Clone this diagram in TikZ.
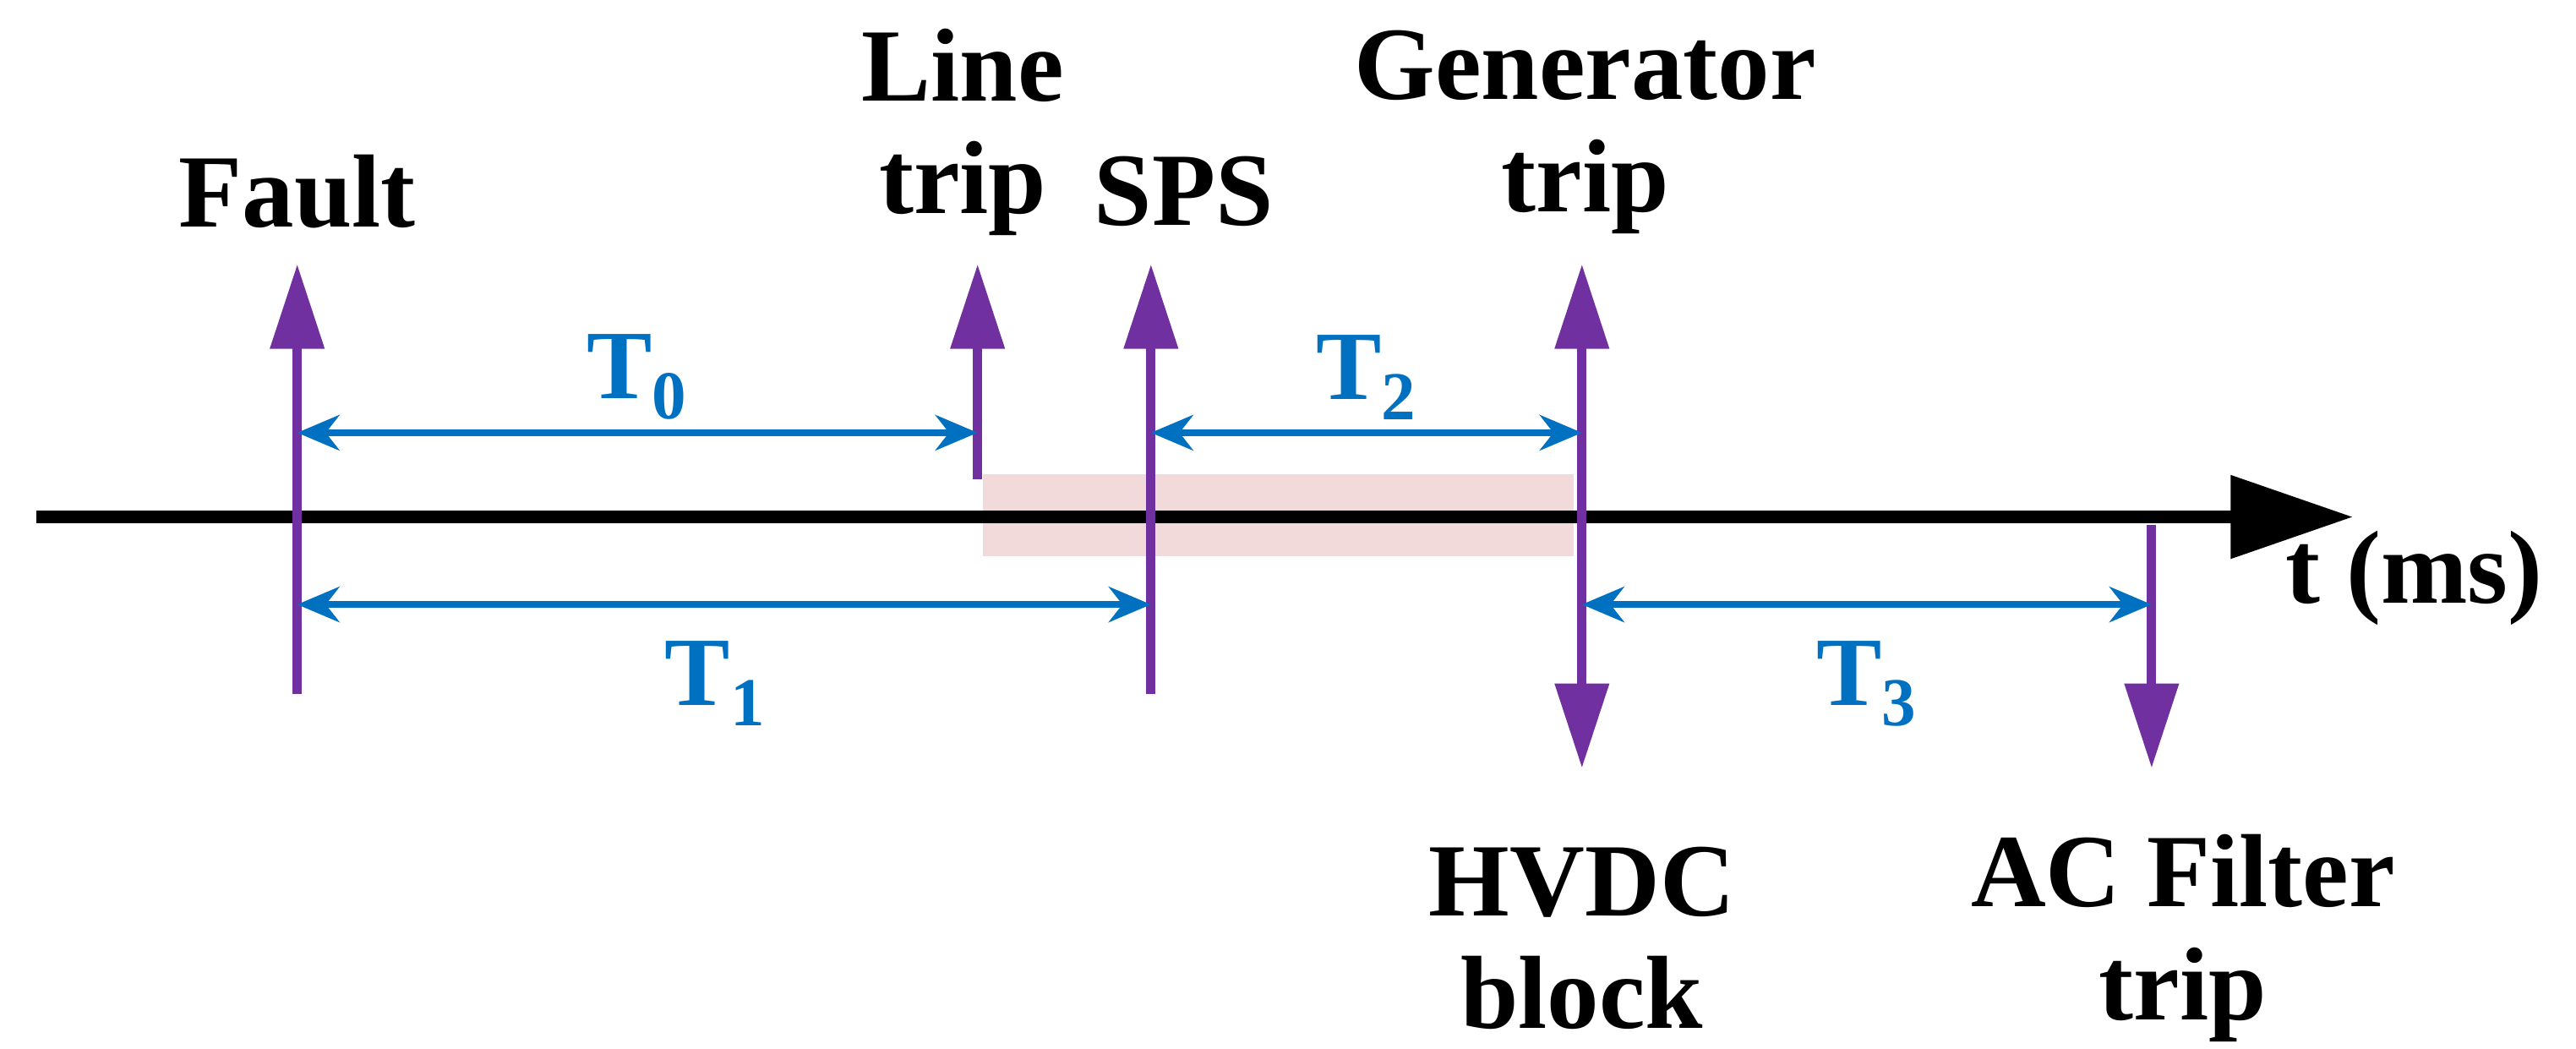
\documentclass[tikz,border=0pt]{standalone}
\usepackage{fontspec}
\setmainfont{Liberation Serif}
\usetikzlibrary{arrows.meta}
\definecolor{pur}{RGB}{112,48,160}
\definecolor{blu}{RGB}{0,112,192}
\definecolor{pnk}{RGB}{242,218,218}
\begin{document}
\begin{tikzpicture}[x=0.01954cm,y=-0.01954cm,
 ev/.style={pur,line width=3.1pt,-{Triangle[length=1cm,width=0.62cm]}},
 ev2/.style={pur,line width=3.1pt,{Triangle[length=1cm,width=0.62cm]}-{Triangle[length=1cm,width=0.62cm]}},
 dur/.style={blu,line width=2.1pt,{Stealth[length=0.5cm,width=0.42cm]}-{Stealth[length=0.5cm,width=0.42cm]}},
 lab/.style={font=\fontsize{35}{38}\selectfont\bfseries,align=center},
 tl/.style={blu,font=\fontsize{33}{34}\selectfont\bfseries}]
\useasboundingbox (0,0) rectangle (1560,635);
\fill[pnk] (595,287) rectangle (953,337);
\draw[line width=4.5pt,-{Triangle[length=1.45cm,width=0.95cm]}] (22,313) -- (1425,313);
\coordinate (f0) at (180,420); \coordinate (f1) at (180,160);
\coordinate (l0) at (592,290); \coordinate (l1) at (592,160);
\coordinate (s0) at (697,420); \coordinate (s1) at (697,160);
\coordinate (g0) at (958,465); \coordinate (g1) at (958,160);
\coordinate (a0) at (1303,318); \coordinate (a1) at (1303,465);
\draw[ev] (f0) -- (f1);
\draw[ev] (l0) -- (l1);
\draw[ev] (s0) -- (s1);
\draw[ev2] (g0) -- (g1);
\draw[ev] (a0) -- (a1);
\draw[dur] (180,262) -- node[tl,above=0pt]{T$_\mathbf{0}$} (592,262);
\draw[dur] (697,262) -- node[tl,above=0pt]{T$_\mathbf{2}$} (958,262);
\draw[dur] (180,366) -- node[tl,below=8pt,pos=0.49]{T$_\mathbf{1}$} (697,366);
\draw[dur] (958,366) -- node[tl,below=8pt,pos=0.5]{T$_\mathbf{3}$} (1303,366);
\node[lab] (nf) at (180,116) {Fault};
\node[lab] (nl) at (583,80) {Line\\trip};
\node[lab] (ns) at (717,116) {SPS};
\node[lab] (ng) at (960,80) {Generator\\trip};
\node[lab] (nh) at (958,568) {HVDC\\block};
\node[lab] (na) at (1322,568) {AC Filter\\trip};
\node[lab] (nt) at (1462,350) {t (ms)};
\end{tikzpicture}
\end{document}
